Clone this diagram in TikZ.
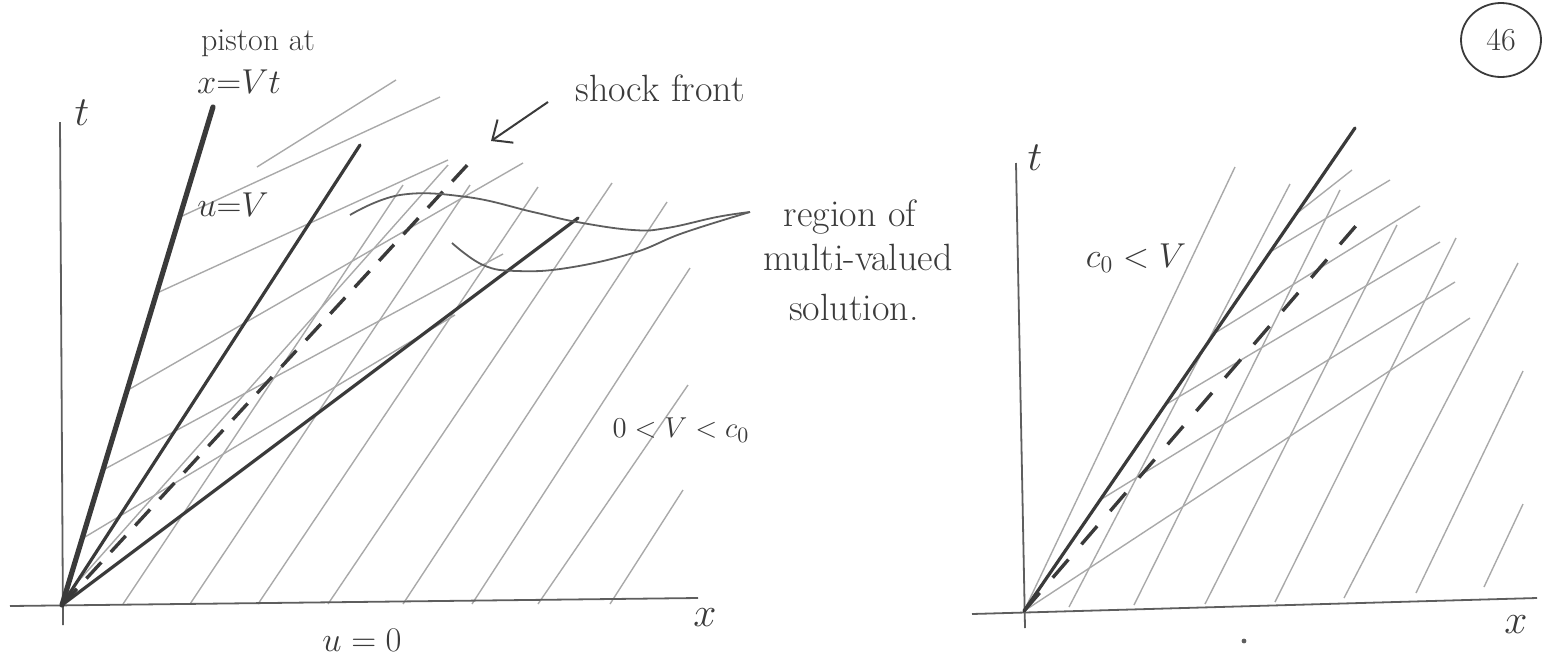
\documentclass[tikz,border=0pt]{standalone}
\usepackage{amsmath,amssymb}
\usepackage{tikz}
\usetikzlibrary{arrows.meta}

\definecolor{pencil}{HTML}{3A3A3A}
\definecolor{lead}{HTML}{5E5E5E}
\definecolor{faint}{HTML}{A9A9A9}

\tikzset{
  axisline/.style={lead,line width=0.9pt},
  pathline/.style={pencil,line width=1.6pt,line cap=round},
  pistonline/.style={pencil,line width=2.6pt,line cap=round},
  shockline/.style={pencil,line width=1.7pt,dash pattern=on 11pt off 7pt},
  charline/.style={faint,line width=0.7pt},
  regionline/.style={lead,line width=0.9pt},
  hand/.style={pencil,inner sep=0pt,font=\fontsize{#1}{#1}\selectfont},
  hand/.default=18,
}

\begin{document}
\begin{tikzpicture}[x=0.5pt,y=-0.5pt]
  \useasboundingbox (0,0) rectangle (1542,665);

  % left sketch: 0 < V < c_0
  \coordinate (O) at (62,605);
  \coordinate (pistontop) at (213,107);
  \coordinate (fantop) at (360,145);
  \coordinate (shocktop) at (471,161);
  \coordinate (fanlow) at (578,218);
  \foreach \ax/\ay/\bx/\by in {257/167/396/80, 180/217/440/97, 157/293/448/160,
      128/390/523/163, 103/470/503/254, 85/537/455/315, 75/585/448/165}
    \draw[charline] (\ax,\ay) -- (\bx,\by);
  \foreach \xb/\xt/\yt in {123/403/185, 190/470/185, 258/538/187, 328/612/183,
      403/667/202, 472/690/268, 538/688/385, 610/683/490}
    \draw[charline] (\xb,604) -- (\xt,\yt);
  \draw[axisline] (60,122) -- (63,625);
  \draw[axisline] (10,606) -- (698,598);
  \draw[pistonline] (O) -- (pistontop);
  \draw[pathline] (O) -- (fantop);
  \draw[pathline] (O) -- (fanlow);
  \draw[shockline] (O) -- (shocktop);
  \coordinate (regionend) at (750,212);
  \draw[regionline] plot[smooth,tension=0.7] coordinates {(350,215) (400,195) (467,197)
    (533,212) (577,222) (633,230) (667,228) (717,217) (regionend)};
  \draw[regionline] plot[smooth,tension=0.7] coordinates {(452,243) (483,265) (517,271)
    (567,268) (633,253) (683,233) (regionend)};
  \node[hand=22] (tl) at (82,113) {$t$};
  \node[hand=22] (xl) at (705,618) {$x$};
  \node[hand=16] (piston) at (258,43) {piston at};
  \node[hand=17] (pistoneq) at (239,82) {$x{=}Vt$};
  \node[hand=16] (uV) at (233,205) {$u{=}V$};
  \node[hand=16] (u0) at (362,640) {$u=0$};
  \node[hand=19] (shock) at (660,88) {shock front};
  \coordinate (shocktail) at (548,102);
  \coordinate (shocktip) at (491,141);
  \draw[pencil,line width=1pt,-{Straight Barb[length=8pt,width=14pt]}] (shocktail) -- (shocktip);
  \node[hand=19] (region) at (850,217) {region of};
  \node[hand=19] (multi) at (858,257) {multi-valued};
  \node[hand=19] (solution) at (854,307) {solution.};
  \node[hand=15] (subsonic) at (681,430) {$0<V<c_0$};

  % right sketch: c_0 < V
  \coordinate (R) at (1024,611);
  \coordinate (rpiston) at (1355,128);
  \coordinate (rshock) at (1367,213);
  \foreach \ax/\ay/\bx/\by in {1296/214/1352/170, 1270/252/1390/180, 1215/333/1420/206,
      1165/405/1440/242, 1100/500/1455/282, 1024/611/1470/318}
    \draw[charline] (\ax,\ay) -- (\bx,\by);
  \foreach \xb/\yb/\xt/\yt in {1024/611/1235/167, 1069/607/1290/184, 1134/605/1340/190,
      1205/604/1397/225, 1275/602/1456/238, 1344/598/1518/263, 1416/593/1523/371,
      1484/587/1523/504}
    \draw[charline] (\xb,\yb) -- (\xt,\yt);
  \draw[axisline] (1016,163) -- (1025,628);
  \draw[axisline] (972,614) -- (1537,598);
  \draw[pathline] (R) -- (rpiston);
  \draw[shockline,dash pattern=on 12pt off 10pt] (R) -- (rshock);
  \node[hand=22] (rt) at (1035,158) {$t$};
  \node[hand=22] (rx) at (1516,625) {$x$};
  \node[hand=18] (supersonic) at (1136,258) {$c_0<V$};
  \fill[lead] (1244,641) circle (1.2pt);

  \node[hand=16] (page) at (1501,40) {46};
  \draw[pencil,line width=0.9pt] (page) ellipse (20pt and 18.5pt);
\end{tikzpicture}
\end{document}
